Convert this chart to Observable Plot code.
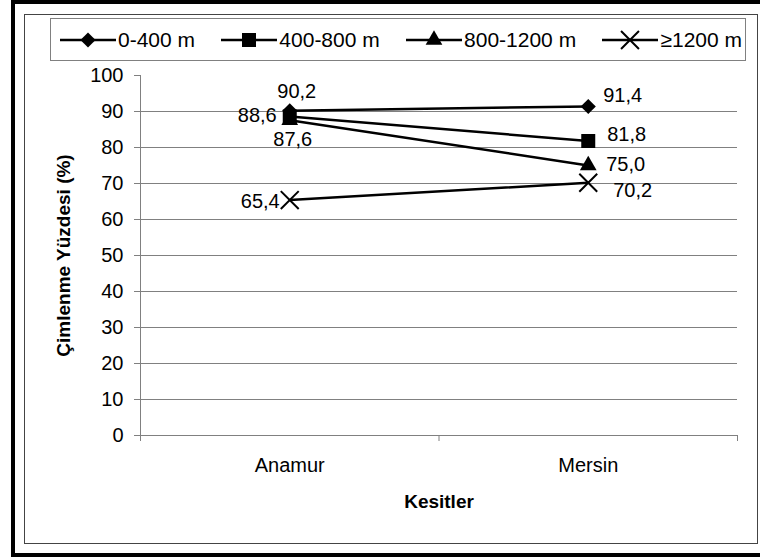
<!DOCTYPE html>
<html>
<head>
<meta charset="utf-8">
<script src="https://cdn.jsdelivr.net/npm/d3@7"></script>
<script src="https://cdn.jsdelivr.net/npm/@observablehq/plot@0.6"></script>
<style>
  html, body { margin: 0; padding: 0; overflow: hidden; background: #fff; font-family: "Liberation Sans", Arial, sans-serif; }
  #wrap { position: relative; width: 760px; height: 558px; overflow: hidden; background: #fff; }
  #wrap > svg { position: absolute; left: 0; top: 0; }
  .outer { position: absolute; left: 11px; top: 0; width: 749px; height: 557px; box-sizing: border-box;
           border-top: 4px solid #000; border-left: 4px solid #000; border-bottom: 4px solid #000; }
  .inner { position: absolute; left: 24px; top: 14px; width: 734px; height: 530px; box-sizing: border-box; border: 1px solid #444; }
  .legend { position: absolute; left: 50px; top: 18px; width: 696px; height: 43px; box-sizing: border-box;
            border: 1px solid #808080; background: #fff; display: flex; align-items: center;
            justify-content: space-between; padding: 0 3px 0 9px; font-size: 21px; color: #000; }
  .legend .item { display: flex; align-items: center; white-space: nowrap; }
  .legend svg { display: block; margin-right: 2px; }
</style>
</head>
<body>
<div id="wrap">
  <div class="outer"></div>
  <div class="inner"></div>
</div>
<script>
// Sampling sites (categories) and altitude classes (series)
const sites = ["Anamur", "Mersin"];
const series = ["0-400 m", "400-800 m", "800-1200 m", "≥1200 m"];

// Germination percentage per altitude class, one array per site
const anamurValues = [90.2, 88.6, 87.6, 65.4];
const mersinValues = [91.4, 81.8, 75.0, 70.2];

// Y axis tick values
const yTicks = [0, 10, 20, 30, 40, 50, 60, 70, 80, 90, 100];

// Marker style per series: symbol name and radius
const seriesSymbols = ["diamond2", "square", "triangle", "times"];
const seriesRadius = [6.8, 7.9, 6.2, 8.2];

// Value-label placement per site and series (anchor and nudge in px)
const labelPlacement = {
  Anamur: [
    {anchor: "middle", dx: 7, dy: -19},
    {anchor: "end", dx: -13, dy: -1},
    {anchor: "middle", dx: 3, dy: 19},
    {anchor: "end", dx: -10, dy: 2}
  ],
  Mersin: [
    {anchor: "start", dx: 15, dy: -11},
    {anchor: "start", dx: 19, dy: -6},
    {anchor: "start", dx: 18, dy: -1},
    {anchor: "start", dx: 25, dy: 8}
  ]
};

const valuesBySite = {Anamur: anamurValues, Mersin: mersinValues};
const fmt = v => v.toFixed(1).replace(".", ",");

// Long table: one row per (series, site)
const rows = [];
series.forEach((s, i) => {
  sites.forEach((site, j) => {
    rows.push({series: s, si: i, site, pos: j + 0.5, value: valuesBySite[site][i]});
  });
});

const axisGray = "#808080";

const marks = [
  // horizontal gridlines (no line at the top value)
  Plot.gridY(yTicks.filter(t => t > 0 && t < 100), {stroke: axisGray, strokeOpacity: 1}),
  // axis lines
  Plot.ruleX([0], {stroke: axisGray}),
  Plot.ruleY([0], {stroke: axisGray}),
  // y axis ticks and labels
  Plot.axisY({ticks: yTicks, tickSize: 6, tickPadding: 11, stroke: axisGray, fill: "black", label: null}),
  // x axis: ticks at category boundaries
  Plot.axisX({ticks: d3.range(0, sites.length + 1), tickSize: 6, tickFormat: () => "", stroke: axisGray, label: null}),
  // x axis: category names centred in their bands
  Plot.axisX({ticks: sites.map((d, j) => j + 0.5), tickSize: 0, tickPadding: 22,
              tickFormat: d => sites[Math.floor(d)], fill: "black", label: null}),
  // axis titles
  Plot.text(["Kesitler"], {frameAnchor: "bottom", lineAnchor: "middle", dy: 66, fontWeight: "bold", fontSize: 19}),
  Plot.text(["Çimlenme Yüzdesi (%)"], {frameAnchor: "left", textAnchor: "middle", rotate: -90, dx: -77,
                                       fontWeight: "bold", fontSize: 19}),
  // series lines
  Plot.line(rows, {x: "pos", y: "value", z: "series", stroke: "black", strokeWidth: 2.5})
];

// markers, one mark per series
series.forEach((s, i) => {
  const sym = seriesSymbols[i];
  const stroked = sym === "times";
  marks.push(Plot.dot(rows.filter(d => d.si === i), {
    x: "pos", y: "value", symbol: sym, r: seriesRadius[i],
    fill: stroked ? "none" : "black",
    stroke: stroked ? "black" : "none",
    strokeWidth: 2
  }));
});

// value labels
rows.forEach(d => {
  const p = labelPlacement[d.site][d.si];
  marks.push(Plot.text([d], {
    x: "pos", y: "value", text: r => fmt(r.value),
    textAnchor: p.anchor, dx: p.dx, dy: p.dy, fill: "black"
  }));
});

const chart = Plot.plot({
  width: 760,
  height: 558,
  marginLeft: 140,
  marginRight: 23,
  marginTop: 75,
  marginBottom: 123,
  x: {type: "linear", domain: [0, sites.length], axis: null},
  y: {domain: [0, 100], axis: null},
  style: {
    background: "transparent",
    fontFamily: '"Liberation Sans", Arial, sans-serif',
    fontSize: "20px",
    color: "black",
    overflow: "visible"
  },
  marks
});

const wrap = document.getElementById("wrap");
wrap.insertBefore(chart, wrap.firstChild);

// legend inside the chart frame
const symbolTypes = {
  diamond2: d3.symbolDiamond2, square: d3.symbolSquare,
  triangle: d3.symbolTriangle, times: d3.symbolTimes
};
const legend = d3.select(wrap).append("div").attr("class", "legend");
series.forEach((s, i) => {
  const item = legend.append("div").attr("class", "item");
  const svg = item.append("svg").attr("width", 56).attr("height", 20);
  svg.append("line").attr("x1", 0).attr("x2", 56).attr("y1", 10).attr("y2", 10)
    .attr("stroke", "black").attr("stroke-width", 2.5);
  const sym = seriesSymbols[i];
  const stroked = sym === "times";
  const r = seriesRadius[i];
  svg.append("path")
    .attr("transform", "translate(28,10)")
    .attr("d", d3.symbol(symbolTypes[sym], Math.PI * r * r)())
    .attr("fill", stroked ? "none" : "black")
    .attr("stroke", stroked ? "black" : "none")
    .attr("stroke-width", 2);
  item.append("span").text(s);
});
</script>
</body>
</html>
